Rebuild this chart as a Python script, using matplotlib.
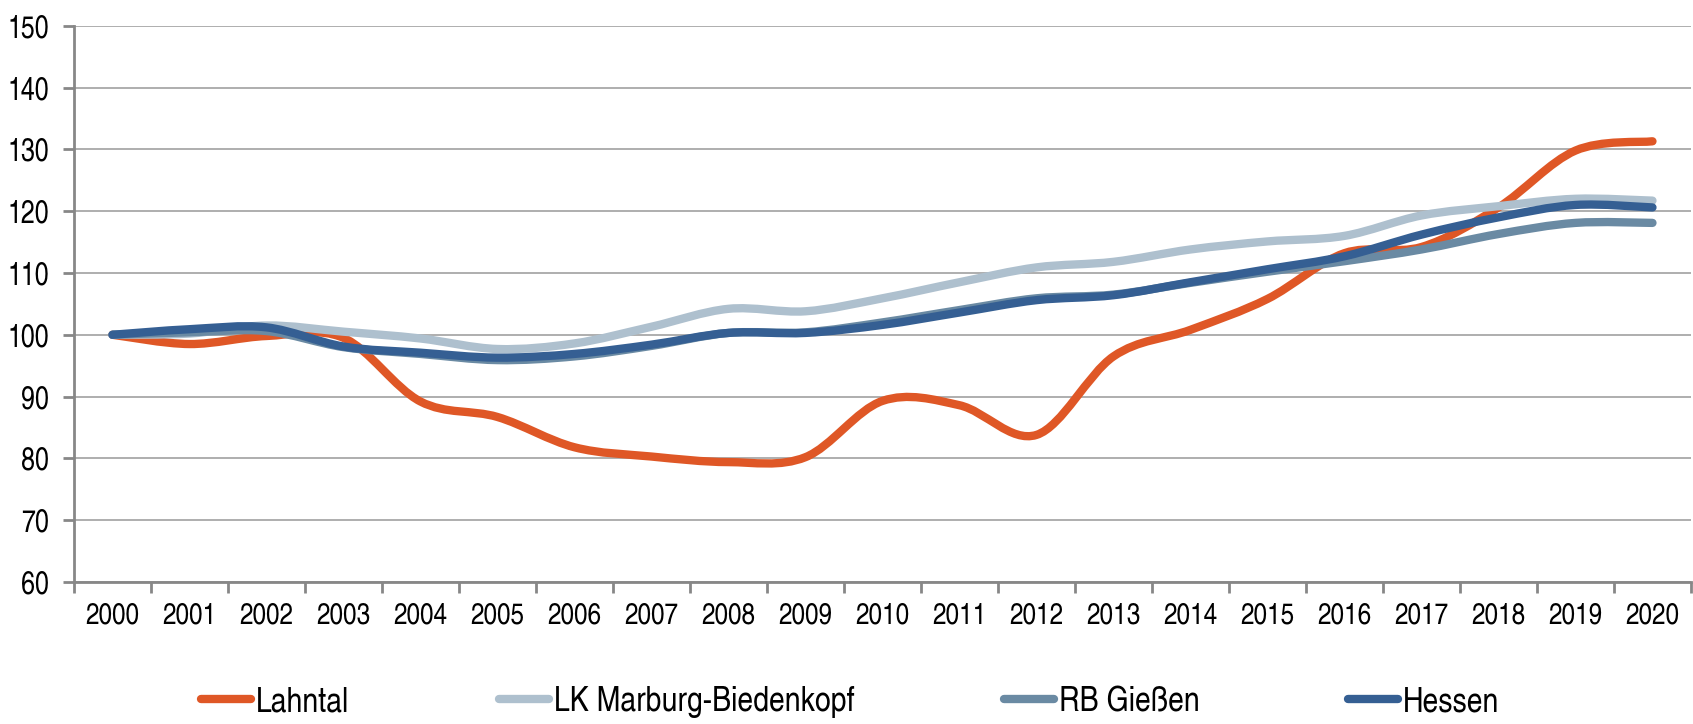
import numpy as np
import matplotlib.pyplot as plt
from matplotlib.path import Path
from matplotlib.patches import PathPatch
from matplotlib.lines import Line2D

plt.rcParams['font.family'] = ['Nimbus Sans Narrow', 'TeX Gyre Heros Cn', 'Roboto Condensed',
                               'Archivo Narrow', 'Liberation Sans', 'DejaVu Sans']

years = [str(y) for y in range(2000, 2021)]
lahntal = [100, 98.5, 99.8, 99.5, 89.2, 86.7, 81.8, 80.3, 79.4, 80.2, 89.3,
           88.6, 83.8, 96.5, 100.8, 105.8, 113.2, 114.2, 120.6, 129.8, 131.3]
lk_marburg = [100, 100.2, 101.5, 100.5, 99.4, 97.7, 98.6, 101.3, 104.2, 103.8, 105.9,
              108.5, 110.9, 111.8, 113.8, 115.1, 116.0, 119.3, 120.8, 122.0, 121.7]
rb_giessen = [100, 100.4, 100.6, 98.0, 96.9, 95.9, 96.5, 98.2, 100.3, 100.4, 102.0,
              104.0, 105.9, 106.5, 108.4, 110.2, 111.9, 113.8, 116.3, 118.1, 118.1]
hessen = [100, 100.9, 101.2, 98.1, 97.1, 96.3, 96.9, 98.4, 100.3, 100.3, 101.6,
          103.6, 105.6, 106.4, 108.5, 110.6, 112.7, 116.2, 119.0, 121.0, 120.6]

series = [
    ("Lahntal", lahntal, "#DF5726"),
    ("LK Marburg-Biedenkopf", lk_marburg, "#AEC0CE"),
    ("RB Gießen", rb_giessen, "#6A8AA3"),
    ("Hessen", hessen, "#355F93"),
]


def smooth_path(ys):
    # excel-like smoothed line: cubic bezier through the points
    pts = np.column_stack([np.arange(len(ys)), ys]).astype(float)
    p = np.vstack([pts[0], pts, pts[-1]])
    verts = [pts[0]]
    codes = [Path.MOVETO]
    for i in range(len(pts) - 1):
        a, b, c, d = p[i], p[i + 1], p[i + 2], p[i + 3]
        verts += [b + (c - a) / 6, c - (d - b) / 6, c]
        codes += [Path.CURVE4] * 3
    return Path(verts, codes)


fig = plt.figure(figsize=(16.93, 7.24), dpi=100)
ax = fig.add_axes([0.0437, 0.1961, 0.9551, 0.7684])

lw = 6
handles = []
for i, (name, vals, col) in enumerate(series):
    patch = PathPatch(smooth_path(vals), fill=False, edgecolor=col, lw=lw,
                      capstyle='round', joinstyle='round', zorder=3 + i)
    ax.add_patch(patch)
    handles.append(Line2D([], [], color=col, lw=lw, solid_capstyle='round'))

ax.set_xlim(-0.5, 20.5)
ax.set_ylim(60, 150)
ax.set_yticks(range(60, 151, 10))
ax.set_xticks(range(len(years)))
ax.set_xticklabels(years)
ax.set_xticks(np.arange(-0.5, 21, 1), minor=True)

grey = "#878787"
ax.yaxis.grid(True, color="#A8A8A8", lw=1.3, zorder=0)
ax.set_axisbelow(True)
for s in ["top", "right"]:
    ax.spines[s].set_visible(False)
for s in ["left", "bottom"]:
    ax.spines[s].set_color(grey)
    ax.spines[s].set_linewidth(2)

ax.tick_params(axis='y', length=8, width=2, color=grey, labelsize=22, pad=10)
ax.tick_params(axis='x', which='major', length=0, labelsize=21.5, pad=15)
ax.tick_params(axis='x', which='minor', length=8, width=2, color=grey)

# legend entries placed individually along the bottom
legend_x = [201, 499, 1004, 1348]
for h, (name, vals, col), x in zip(handles, series, legend_x):
    fig.legend(handles=[h], labels=[name], loc='center left',
               bbox_to_anchor=(x / 1693, 1 - 702 / 724), frameon=False,
               fontsize=25, handlelength=1.45, handletextpad=0.12,
               borderpad=0, borderaxespad=0)

fig.savefig("out.png", dpi=100)
